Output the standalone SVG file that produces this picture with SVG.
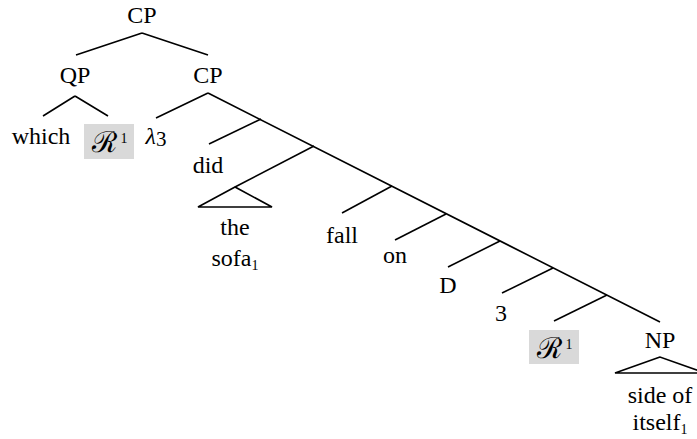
<svg xmlns="http://www.w3.org/2000/svg" width="697" height="439" viewBox="0 0 697 439">
<style>
.t{font-family:"Liberation Serif","DejaVu Serif",serif;font-size:24px;fill:#000;text-anchor:middle}
.s{font-size:14px}
.r{font-size:29px}
.l{stroke:#000;stroke-width:1.6;fill:none;stroke-linecap:butt}
.hl{fill:#d9d9d9}
</style>
<rect width="697" height="439" fill="#fff"/>
<g id="connectors">
<path class="l" d="M142 33L76 55M142 33L208 55"/>
<path class="l" d="M75 96L43 116M75 96L108 116"/>
<path class="l" d="M208 93L156 118M208 93L660 322"/>
<path class="l" d="M261 119L209 144"/>
<path class="l" d="M314 146L235 187"/>
<path class="l" d="M235 187L198 207L272 207Z"/>
<path class="l" d="M392 186L342 213"/>
<path class="l" d="M446 214L395 240"/>
<path class="l" d="M500 241L448 267"/>
<path class="l" d="M553 268L502 293"/>
<path class="l" d="M607 295L554 321"/>
<path class="l" d="M660 357L615 373L705 373Z"/>
</g>
<g id="cp-root"><text class="t" x="142" y="23">CP</text></g>
<g id="qp"><text class="t" x="75" y="83">QP</text></g>
<g id="cp"><text class="t" x="208" y="83">CP</text></g>
<g id="which"><text class="t" x="41" y="144">which</text></g>
<g id="r1a"><rect class="hl" x="84" y="124" width="50" height="35"/><text class="t r" x="104" y="152">ℛ</text><text class="t s" x="124" y="143">1</text></g>
<g id="lambda"><text class="t" x="156" y="144"><tspan font-style="italic">λ</tspan><tspan font-size="21" dy="2">3</tspan></text></g>
<g id="did"><text class="t" x="208" y="173">did</text></g>
<g id="the-sofa"><text class="t" x="235" y="235">the</text><text class="t" x="235" y="266">sofa<tspan class="s" dy="4">1</tspan></text></g>
<g id="fall"><text class="t" x="342" y="243">fall</text></g>
<g id="on"><text class="t" x="395" y="263">on</text></g>
<g id="d"><text class="t" x="448" y="293">D</text></g>
<g id="three"><text class="t" x="501" y="321" font-size="19">3</text></g>
<g id="r1b"><rect class="hl" x="529" y="330" width="50" height="34"/><text class="t r" x="549" y="358">ℛ</text><text class="t s" x="569" y="349">1</text></g>
<g id="np"><text class="t" x="660" y="348">NP</text><text class="t" x="660" y="403">side of</text><text class="t" x="660" y="430">itself<tspan class="s" dy="4">1</tspan></text></g>
</svg>
